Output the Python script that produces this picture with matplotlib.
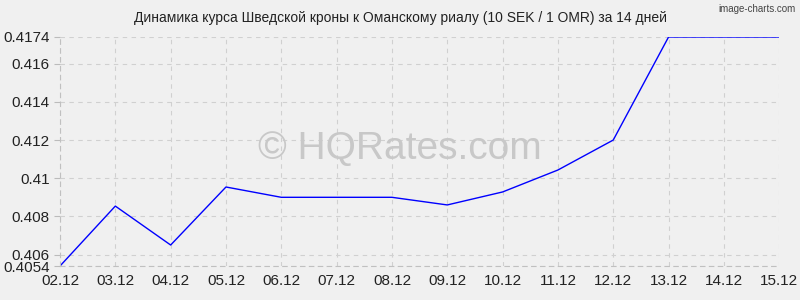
import matplotlib
matplotlib.use("Agg")
from matplotlib import pyplot as plt

dates = ["02.12", "03.12", "04.12", "05.12", "06.12", "07.12", "08.12",
         "09.12", "10.12", "11.12", "12.12", "13.12", "14.12", "15.12"]
rates = [0.4054, 0.40854, 0.4065, 0.40954, 0.4090, 0.4090, 0.4090,
         0.4086, 0.40928, 0.41043, 0.4120, 0.4174, 0.4174, 0.4174]
yticks = [0.4054, 0.406, 0.408, 0.41, 0.412, 0.414, 0.416, 0.4174]
ylabels = ["0.4054", "0.406", "0.408", "0.41", "0.412", "0.414", "0.416", "0.4174"]

plt.rcParams["font.family"] = ["Liberation Sans", "DejaVu Sans"]

fig = plt.figure(figsize=(8, 3), dpi=100, facecolor="#f0f0f0")
ax = fig.add_axes([0.075, 0.1133, 0.899, 0.7634])
ax.set_facecolor("#f0f0f0")

x = list(range(len(dates)))
ax.plot(x, rates, color="#0000ff", linewidth=1)

ax.set_xlim(0, len(dates) - 1)
ax.set_ylim(yticks[0], yticks[-1])
ax.set_xticks(x)
ax.set_xticklabels(dates)
ax.set_yticks(yticks)
ax.set_yticklabels(ylabels)
ax.tick_params(labelsize=11, colors="#222222", length=4, color="#bbbbbb")
ax.tick_params(axis="x", length=0, pad=6)
ax.grid(True, color="#d0d0d0", linestyle=(0, (4, 4)), linewidth=0.8)
for s in ["top", "right"]:
    ax.spines[s].set_visible(False)
for s in ["left", "bottom"]:
    ax.spines[s].set_color("#c0c0c0")
    ax.spines[s].set_linestyle((0, (4, 4)))
    ax.spines[s].set_linewidth(0.8)

fig.text(0.5, 0.94, "Динамика курса Шведской кроны к Оманскому риалу (10 SEK / 1 OMR) за 14 дней",
         ha="center", va="center", fontsize=10, color="#222222")
fig.text(0.995, 0.985, "image-charts.com", ha="right", va="top", fontsize=7, color="#444444")
fig.text(0.5, 0.505, "© HQRates.com", ha="center", va="center",
         fontsize=28, color="#c8c8c8", zorder=0)

fig.savefig("out.png", dpi=100, facecolor="#f0f0f0")
